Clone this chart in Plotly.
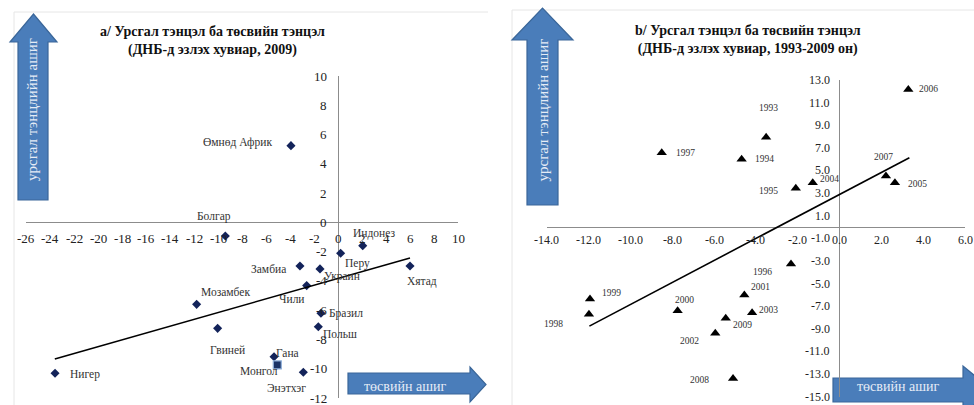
import plotly.graph_objects as go

# ---------------- data ----------------
# a/ 2009 cross-section: budget balance (x) vs current account balance (y), % of GDP
countries = ["Өмнөд Африк", "Болгар", "Индонез", "Перу", "Замбиа", "Украин", "Хятад",
             "Чили", "Мозамбек", "Бразил", "Гвиней", "Польш", "Гана", "Нигер", "Энэтхэг"]
budget_2009 = [-3.92, -9.39, 2.06, 0.22, -3.17, -1.50, 6.00,
               -2.61, -11.78, -1.42, -10.03, -1.64, -5.33, -23.58, -2.89]
current_2009 = [5.24, -0.93, -1.59, -2.11, -2.98, -3.18, -2.98,
                -4.32, -5.60, -6.21, -7.24, -7.13, -9.18, -10.31, -10.24]
mongolia_name = "Монгол"
mongolia_budget_2009 = -5.06
mongolia_current_2009 = -9.74
trend_a_x = [-23.6, 6.0]
trend_a_slope, trend_a_intercept = 0.233, -3.83

# b/ Mongolia 1993-2009
years = [1993, 1994, 1995, 1996, 1997, 1998, 1999, 2000, 2001,
         2002, 2003, 2004, 2005, 2006, 2007, 2008, 2009]
budget_mn = [-3.51, -4.68, -2.09, -2.32, -8.50, -11.98, -11.93, -7.74, -4.55,
             -5.94, -4.18, -1.28, 2.65, 3.29, 2.22, -5.09, -5.44]
current_mn = [7.93, 5.99, 3.42, -3.27, 6.57, -7.72, -6.37, -7.40, -6.01,
              -9.40, -7.58, 3.92, 3.92, 12.17, 4.51, -13.38, -8.07]
trend_b_x = [-11.96, 3.34]
trend_b_slope, trend_b_intercept = 0.973, 2.88

ticks_a_x = list(range(-26, 11, 2))
ticks_a_y = list(range(-12, 11, 2))
ticks_b_x = list(range(-14, 7, 2))
ticks_b_y = list(range(-15, 14, 2))

title_a = "<b>а/ Урсгал тэнцэл ба төсвийн тэнцэл<br>(ДНБ-д эзлэх хувиар, 2009)</b>"
title_b = "<b>b/ Урсгал тэнцэл ба төсвийн тэнцэл<br>(ДНБ-д эзлэх хувиар, 1993-2009 он)</b>"
arrow_up_text = "урсгал тэнцлийн ашиг"
arrow_right_text = "төсвийн ашиг"

# label offsets in pixels (dx right, dy up) relative to each point
country_offsets = [(-53, 3), (-11, 19), (11, 12), (17, -10), (-31, -3), (22, -8), (12, -16),
                   (-15, -13), (29, 12), (25, 0), (10, -22), (22, -7), (13, 4), (30, -1), (-17, -16)]
mongolia_offset = (-18, -6)
year_offsets = [(2, 29), (23, 0), (-27, -3), (-28, -8), (24, 0), (-35, -10), (22, 6), (7, 11),
                (16, 8), (-26, -8), (16, 3), (17, 4), (23, -1), (20, 0), (-2, 19), (-34, -2), (17, -7)]

# ---------------- layout helpers ----------------
W, H = 974, 405
SERIF = "Liberation Serif"
AXIS_GREY = "#8C8C8C"
ARROW_FILL = "#4A7DBA"
ARROW_EDGE = "#3A6699"


def fx(x):
    return x / W


def fy(y):
    return 1 - y / H


def path_from(points):
    parts = [f"{'M' if i == 0 else 'L'} {fx(x):.5f},{fy(y):.5f}" for i, (x, y) in enumerate(points)]
    return " ".join(parts) + " Z"


def up_arrow(shaft_l, shaft_r, head_l, head_r, tip_y, base_y, bottom_y):
    tip_x = (head_l + head_r) / 2
    return path_from([(shaft_l, bottom_y), (shaft_l, base_y), (head_l, base_y), (tip_x, tip_y),
                      (head_r, base_y), (shaft_r, base_y), (shaft_r, bottom_y)])


def right_arrow(left_x, base_x, tip_x, shaft_t, shaft_b, head_t, head_b):
    tip_y = (head_t + head_b) / 2
    return path_from([(left_x, shaft_t), (base_x, shaft_t), (base_x, head_t), (tip_x, tip_y),
                      (base_x, head_b), (base_x, shaft_b), (left_x, shaft_b)])


fig = go.Figure()

# ---------------- panel a ----------------
fig.add_trace(go.Scatter(
    x=budget_2009, y=current_2009, mode="markers", xaxis="x", yaxis="y",
    marker=dict(symbol="diamond", size=7, color="#13235A"), showlegend=False))
fig.add_trace(go.Scatter(
    x=[mongolia_budget_2009], y=[mongolia_current_2009], mode="markers", xaxis="x", yaxis="y",
    marker=dict(symbol="square", size=8, color="#1B3366", line=dict(color="#8FB0DA", width=1.2)),
    showlegend=False))
fig.add_trace(go.Scatter(
    x=trend_a_x, y=[trend_a_slope * v + trend_a_intercept for v in trend_a_x],
    mode="lines", xaxis="x", yaxis="y", line=dict(color="black", width=1.6), showlegend=False))

# ---------------- panel b ----------------
fig.add_trace(go.Scatter(
    x=budget_mn, y=current_mn, mode="markers", xaxis="x2", yaxis="y2",
    marker=dict(symbol="triangle-up", size=9, color="black"), showlegend=False))
fig.add_trace(go.Scatter(
    x=trend_b_x, y=[trend_b_slope * v + trend_b_intercept for v in trend_b_x],
    mode="lines", xaxis="x2", yaxis="y2", line=dict(color="black", width=1.6), showlegend=False))

annotations = []


def label(**kw):
    base = dict(showarrow=False, xanchor="center", yanchor="middle")
    base.update(kw)
    annotations.append(base)


# tick labels sit beside the zero lines
for t in ticks_a_x:
    label(x=t, y=0, xref="x", yref="y", text=str(t), yshift=-16,
          font=dict(family=SERIF, size=13, color="#222"))
for t in ticks_a_y:
    label(x=0, y=t, xref="x", yref="y", text=str(t), xanchor="right", xshift=-9,
          font=dict(family=SERIF, size=13, color="#222"))
for t in ticks_b_x:
    label(x=t, y=0, xref="x2", yref="y2", text=f"{t:.1f}", yshift=-13,
          font=dict(family=SERIF, size=12, color="#222"))
for t in ticks_b_y:
    label(x=0, y=t, xref="x2", yref="y2", text=f"{t:.1f}", xanchor="right", xshift=-8,
          font=dict(family=SERIF, size=12, color="#222"))

# point labels
for name, bx, cy, (dx, dy) in zip(countries, budget_2009, current_2009, country_offsets):
    label(x=bx, y=cy, xref="x", yref="y", text=name, xshift=dx, yshift=dy,
          font=dict(family=SERIF, size=11.5, color="#333"))
label(x=mongolia_budget_2009, y=mongolia_current_2009, xref="x", yref="y", text=mongolia_name,
      xshift=mongolia_offset[0], yshift=mongolia_offset[1],
      font=dict(family=SERIF, size=11.5, color="#333"))
for yr, bx, cy, (dx, dy) in zip(years, budget_mn, current_mn, year_offsets):
    label(x=bx, y=cy, xref="x2", yref="y2", text=str(yr), xshift=dx, yshift=dy,
          font=dict(family=SERIF, size=9.5, color="#333"))

# titles
label(x=fx(212), y=fy(41), xref="paper", yref="paper", text=title_a,
      font=dict(family=SERIF, size=14, color="#111"))
label(x=fx(748), y=fy(40), xref="paper", yref="paper", text=title_b,
      font=dict(family=SERIF, size=14, color="#111"))

# arrow captions
for cx in (32, 542.5):
    label(x=fx(cx), y=fy(110), xref="paper", yref="paper", text=arrow_up_text, textangle=-90,
          font=dict(family=SERIF, size=15, color="#E6ECF6"))
for cx in (405, 898):
    label(x=fx(cx), y=fy(386), xref="paper", yref="paper", text=arrow_right_text,
          font=dict(family=SERIF, size=14, color="#E6ECF6"))

shapes = [
    # faint chart-area frames
    dict(type="line", xref="paper", yref="paper", x0=fx(14), x1=fx(488), y0=fy(12), y1=fy(12),
         line=dict(color="#E6E6E6", width=1), layer="below"),
    dict(type="line", xref="paper", yref="paper", x0=fx(14), x1=fx(14), y0=fy(12), y1=fy(405),
         line=dict(color="#E6E6E6", width=1), layer="below"),
    dict(type="line", xref="paper", yref="paper", x0=fx(512), x1=fx(974), y0=fy(10), y1=fy(10),
         line=dict(color="#E6E6E6", width=1), layer="below"),
    dict(type="line", xref="paper", yref="paper", x0=fx(512), x1=fx(512), y0=fy(10), y1=fy(405),
         line=dict(color="#E6E6E6", width=1), layer="below"),
    # block arrows
    dict(type="path", xref="paper", yref="paper",
         path=up_arrow(18, 48, 10, 57, 14, 42, 200),
         fillcolor=ARROW_FILL, line=dict(color=ARROW_EDGE, width=1.2), layer="below"),
    dict(type="path", xref="paper", yref="paper",
         path=up_arrow(527, 558, 512, 573, 8, 40, 205),
         fillcolor=ARROW_FILL, line=dict(color=ARROW_EDGE, width=1.2), layer="below"),
    dict(type="path", xref="paper", yref="paper",
         path=right_arrow(348, 470, 486, 373, 394, 367, 402),
         fillcolor=ARROW_FILL, line=dict(color=ARROW_EDGE, width=1.2), layer="below"),
    dict(type="path", xref="paper", yref="paper",
         path=right_arrow(833, 963, 992, 378, 402, 366, 414),
         fillcolor=ARROW_FILL, line=dict(color=ARROW_EDGE, width=1.2), layer="below"),
]

hidden = dict(showticklabels=False, showgrid=False, ticks="", showline=False,
              zeroline=True, zerolinecolor=AXIS_GREY, zerolinewidth=1.2, fixedrange=True)

fig.update_layout(
    width=W, height=H, margin=dict(l=0, r=0, t=0, b=0),
    paper_bgcolor="white", plot_bgcolor="rgba(0,0,0,0)",
    xaxis=dict(domain=[fx(26), fx(458)], range=[-26, 10], anchor="y", **hidden),
    yaxis=dict(domain=[fy(398), fy(76)], range=[-12, 10], anchor="x", **hidden),
    xaxis2=dict(domain=[fx(546.7), fx(965)], range=[-14, 6], anchor="y2", **hidden),
    yaxis2=dict(domain=[fy(396.7), fy(80)], range=[-15, 13], anchor="x2", **hidden),
    annotations=annotations, shapes=shapes, showlegend=False,
)

fig.write_html("out.html")
